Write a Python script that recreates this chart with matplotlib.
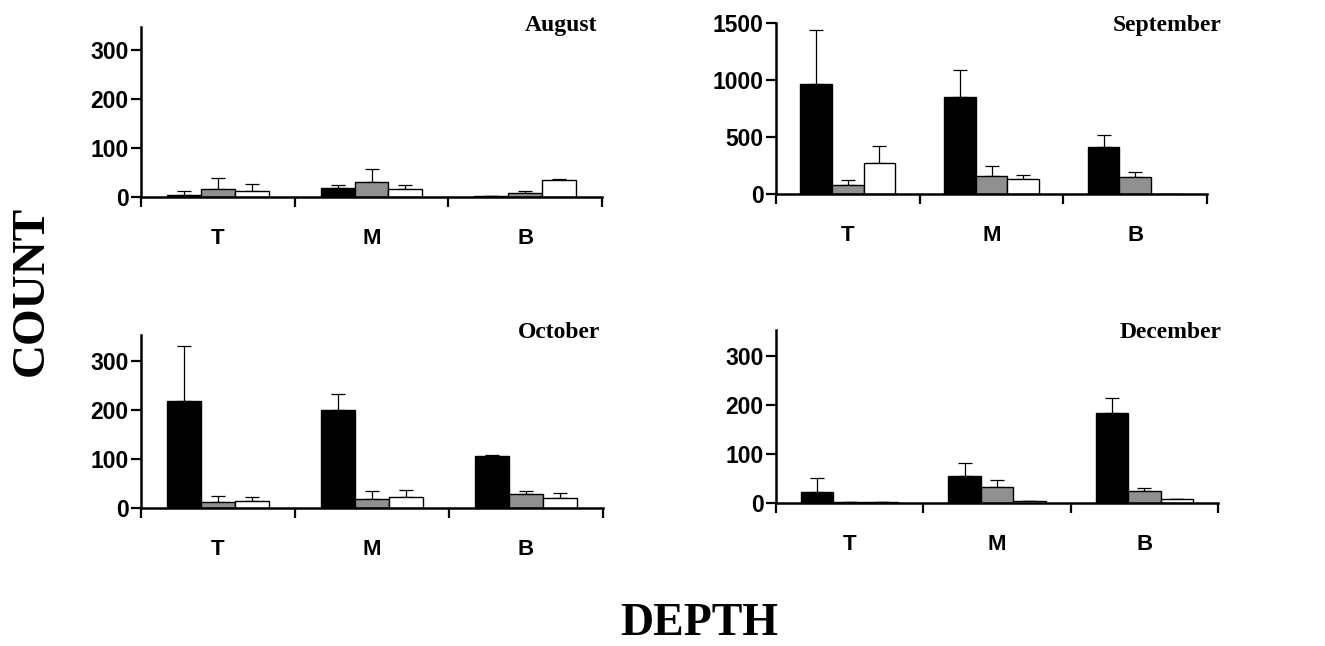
import matplotlib
matplotlib.use("Agg")
import matplotlib.pyplot as plt
import numpy as np

# Depth categories and months
depths = ["T", "M", "B"]
months = ["August", "September", "October", "December"]

# Mean counts per depth for the three groups (black, grey, white bars)
aug_black = [4, 18, 3]
aug_grey = [17, 30, 8]
aug_white = [12, 16, 35]
aug_black_err = [8, 6, 0]
aug_grey_err = [22, 28, 4]
aug_white_err = [14, 8, 2]

sep_black = [965, 850, 415]
sep_grey = [80, 160, 145]
sep_white = [270, 135, 0]
sep_black_err = [475, 240, 105]
sep_grey_err = [45, 90, 50]
sep_white_err = [150, 30, 0]

oct_black = [218, 200, 106]
oct_grey = [13, 19, 28]
oct_white = [15, 22, 20]
oct_black_err = [112, 33, 2]
oct_grey_err = [12, 16, 6]
oct_white_err = [7, 14, 10]

dec_black = [22, 55, 184]
dec_grey = [3, 32, 24]
dec_white = [2, 5, 8]
dec_black_err = [28, 27, 31]
dec_grey_err = [0, 14, 7]
dec_white_err = [0, 0, 0]

yticks_small = [0, 100, 200, 300]
yticks_sep = [0, 500, 1000, 1500]

W, H = 1325, 646
fig = plt.figure(figsize=(W / 100, H / 100), dpi=100)

def px_axes(left, right, zero_y, top_y):
    return fig.add_axes([left / W, 1 - zero_y / H, (right - left) / W, (zero_y - top_y) / H])

panels = [
    (px_axes(141, 602, 197, 27), (aug_black, aug_grey, aug_white),
     (aug_black_err, aug_grey_err, aug_white_err), yticks_small, 347, months[0], (597, 25)),
    (px_axes(776, 1207, 194, 23), (sep_black, sep_grey, sep_white),
     (sep_black_err, sep_grey_err, sep_white_err), yticks_sep, 1500, months[1], (1222, 25)),
    (px_axes(141, 603, 508, 335), (oct_black, oct_grey, oct_white),
     (oct_black_err, oct_grey_err, oct_white_err), yticks_small, 353, months[2], (600, 332)),
    (px_axes(776, 1218, 503, 330), (dec_black, dec_grey, dec_white),
     (dec_black_err, dec_grey_err, dec_white_err), yticks_small, 353, months[3], (1222, 332)),
]

fills = ["black", "#909090", "white"]
bw = 0.22
offsets = [-bw, 0, bw]
x = np.arange(len(depths))

for ax, vals, errs, yt, ymax, title, (tx, ty) in panels:
    for v, e, c, off in zip(vals, errs, fills, offsets):
        ax.bar(x + off, v, width=bw, color=c, edgecolor="black", linewidth=1.0, zorder=2)
        ax.errorbar(x + off, v, yerr=[np.zeros(len(e)), e], fmt="none",
                    ecolor="black", elinewidth=0.9, capsize=5, capthick=0.9, zorder=1)
    ax.set_xlim(-0.5, 2.5)
    ax.set_ylim(0, ymax)
    ax.set_yticks(yt)
    ax.set_yticklabels([str(t) for t in yt], fontfamily="Liberation Sans",
                       fontweight="bold", fontsize=16.5)
    ax.set_xticks(x)
    ax.set_xticklabels(depths, fontfamily="Liberation Sans", fontweight="bold", fontsize=16)
    ax.tick_params(axis="x", which="major", length=0, pad=22)
    ax.set_xticks([-0.5, 0.5, 1.5, 2.5], minor=True)
    ax.tick_params(axis="x", which="minor", length=7, width=1.6, direction="out")
    ax.tick_params(axis="y", length=7, width=1.6, direction="out", pad=2)
    for s in ["top", "right"]:
        ax.spines[s].set_visible(False)
    for s in ["left", "bottom"]:
        ax.spines[s].set_linewidth(1.8)
    ax.patch.set_alpha(0)
    fig.text(tx / W, 1 - ty / H, title, ha="right", va="center",
             fontfamily="Liberation Serif", fontweight="bold", fontsize=17)

fig.text(32 / W, 1 - 291 / H, "COUNT", rotation=90, ha="center", va="center",
         fontfamily="Liberation Serif", fontweight="bold", fontsize=34)
fig.text(699 / W, 1 - 624 / H, "DEPTH", ha="center", va="center",
         fontfamily="Liberation Serif", fontweight="bold", fontsize=33)

fig.savefig("out.png", dpi=100, facecolor="white")
